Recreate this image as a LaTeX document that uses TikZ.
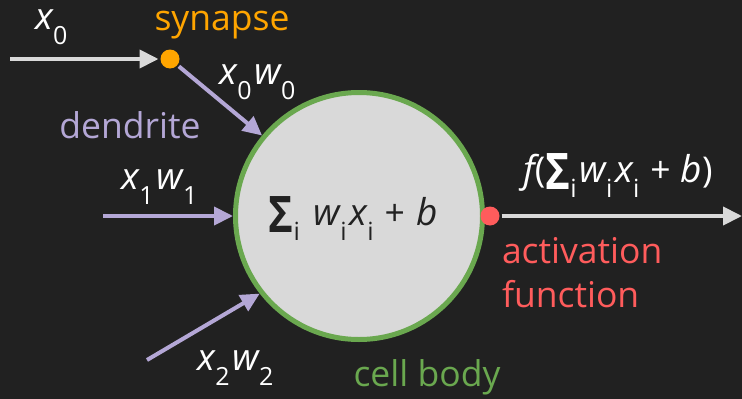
\documentclass[tikz,border=0pt]{standalone}
\usepackage{graphicx}
\usepackage{fontspec}
\setmainfont{Open Sans}
\usetikzlibrary{arrows.meta, positioning}
\definecolor{cbg}{HTML}{212121}
\definecolor{cgrey}{HTML}{D9D9D9}
\definecolor{corange}{HTML}{FFA500}
\definecolor{cpurple}{HTML}{B4A7D6}
\definecolor{cgreen}{HTML}{6AA84F}
\definecolor{cred}{HTML}{FF5C5C}
\definecolor{cdark}{HTML}{222222}
\newcommand{\lowsub}[1]{\raisebox{-15pt}{\fontsize{25}{25}\selectfont #1}\kern3pt}
\newcommand{\mv}[1]{{\fontsize{37}{42}\selectfont\itshape #1}}
\newcommand{\bigsum}{\raisebox{-7pt}{\scalebox{1}[1.2]{\fontsize{42}{42}\selectfont\bfseries Σ}}}
\tikzset{
  every picture/.style={font=\fontsize{35.5}{42}\selectfont, line width=4pt},
  body/.style={circle, draw=cgreen, fill=cgrey, line width=5pt, minimum size=247pt, inner sep=0pt},
  dot/.style={circle, fill=#1, minimum size=19pt, inner sep=0pt},
  arrow/.style={-{Triangle[length=19pt, width=18pt]}, draw=#1, line width=4pt},
  arrow/.default=cgrey,
  lbl/.style={text=#1, inner sep=0pt},
  lbl/.default=white,
}

\begin{document}
\begin{tikzpicture}[x=1pt, y=-1pt]
  \fill[cbg] (0,0) rectangle (742,399);
  \useasboundingbox (0,0) rectangle (742,399);
  % cell body and its two dots
  \node[body] (body) at (359,216) {};
  \node[lbl=cdark] (sum) at (353,219) {\bigsum\lowsub{i}\hspace{11pt}\mv{w}\lowsub{i}\mv{x}\lowsub{i}\hspace{8pt}+\hspace{11pt}\mv{b}};
  \node[dot=corange] (syn) at (170,59) {};
  \node[dot=cred] (act) at (490,216) {};
  % free ends
  \coordinate (in0) at (10,59);
  \coordinate (in1) at (103,216);
  \coordinate (in2) at (147,360);
  \coordinate (out) at (742,216);
  % connectors
  \draw[arrow] (in0) -- (syn);
  \draw[arrow=cpurple] (syn) -- (body);
  \draw[arrow=cpurple] (in1) -- (body);
  \draw[arrow=cpurple] (in2) -- (body.218);
  \draw[arrow] (act) -- (out);
  % labels
  \node[lbl] (lx0) at (53,27) {\mv{x}\lowsub{0}};
  \node[lbl=corange] (lsyn) at (222,25) {synapse};
  \node[lbl] (lx0w0) at (259,82) {\mv{x}\lowsub{0}\mv{w}\lowsub{0}};
  \node[lbl=cpurple] (lden) at (130,125) {dendrite};
  \node[lbl] (lx1w1) at (161,187) {\mv{x}\lowsub{1}\mv{w}\lowsub{1}};
  \node[lbl] (lx2w2) at (237,368) {\mv{x}\lowsub{2}\mv{w}\lowsub{2}};
  \node[lbl=cgreen] (lcell) at (427,377) {cell body};
  \node[lbl] (lout) at (618,176) {\mv{f}(\bigsum\lowsub{i}\mv{w}\lowsub{i}\mv{x}\lowsub{i}\hspace{8pt}+\hspace{10pt}\mv{b})};
  \node[lbl=cred, align=left, anchor=north west, font=\fontsize{35.5}{44}\selectfont] (lact) at (500,235) {activation\\function};
\end{tikzpicture}
\end{document}
